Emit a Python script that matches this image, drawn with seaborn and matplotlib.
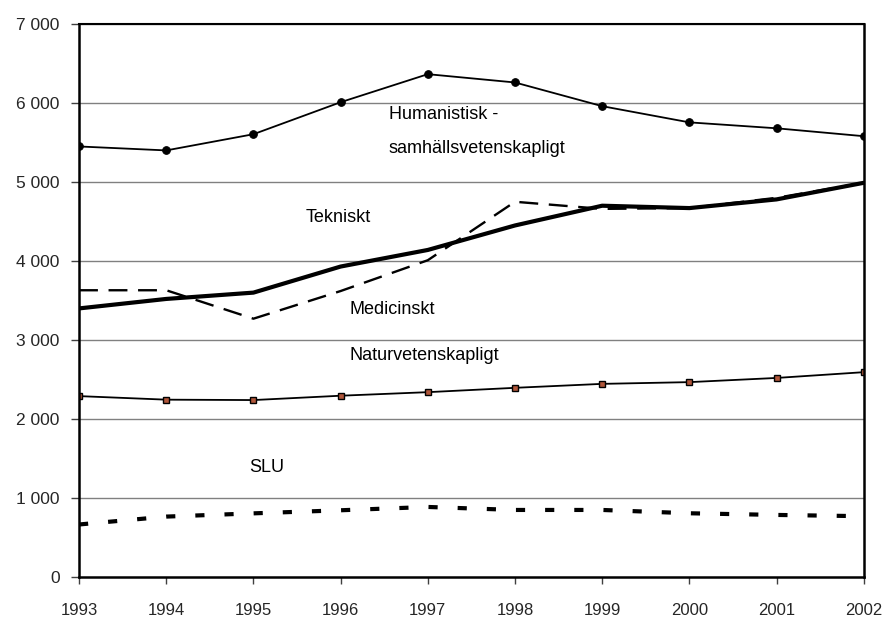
import pandas as pd
import seaborn as sns
import matplotlib.pyplot as plt
from matplotlib.ticker import FuncFormatter

# values
years = [1993, 1994, 1995, 1996, 1997, 1998, 1999, 2000, 2001, 2002]
humanistisk = [5450, 5400, 5605, 6010, 6365, 6260, 5960, 5755, 5680, 5580]
tekniskt = [3400, 3520, 3600, 3930, 4140, 4450, 4700, 4670, 4780, 4990]
medicinskt = [3630, 3630, 3270, 3620, 4010, 4750, 4660, 4670, 4800, 4990]
naturvet = [2290, 2245, 2240, 2295, 2340, 2395, 2445, 2467, 2520, 2593]
slu = [665, 765, 806, 845, 887, 849, 849, 807, 786, 770]

sns.set_style('white')
plt.rcParams['font.family'] = ['Liberation Sans', 'DejaVu Sans']

df = pd.DataFrame({'year': years, 'hum': humanistisk, 'tek': tekniskt,
                   'med': medicinskt, 'nat': naturvet, 'slu': slu})

fig = plt.figure(figsize=(8.85, 6.22), dpi=100)
ax = fig.add_axes([0.0893, 0.0723, 0.8867, 0.8891])

for v in range(1000, 7001, 1000):
    ax.axhline(v, color='#808080', lw=1.0, zorder=0)

sns.lineplot(data=df, x='year', y='slu', ax=ax, color='black', lw=3.0,
             linestyle=(0, (2.2, 4.8)), dash_capstyle='butt')
sns.lineplot(data=df, x='year', y='nat', ax=ax, color='black', lw=1.3,
             marker='s', markersize=5, markerfacecolor='#B0563A',
             markeredgecolor='black', markeredgewidth=1.0)
sns.lineplot(data=df, x='year', y='med', ax=ax, color='black', lw=1.7,
             linestyle=(0, (8, 4.5)))
sns.lineplot(data=df, x='year', y='tek', ax=ax, color='black', lw=3.0)
sns.lineplot(data=df, x='year', y='hum', ax=ax, color='black', lw=1.3,
             marker='o', markersize=5.5, markeredgecolor='black')

ax.set_xlim(1993, 2002)
ax.set_ylim(0, 7000)
ax.set_xticks(years)
ax.set_yticks(range(0, 7001, 1000))
ax.yaxis.set_major_formatter(FuncFormatter(lambda v, p: f'{int(v):,}'.replace(',', ' ')))
ax.set_xlabel('')
ax.set_ylabel('')
ax.tick_params(axis='x', direction='out', length=5, width=1, pad=14,
               labelsize=12, bottom=True, color='#404040')
ax.tick_params(axis='y', direction='out', length=6, width=1, pad=8,
               labelsize=12.5, left=True, color='#404040')

for s in ['left', 'right', 'bottom']:
    ax.spines[s].set_color('black')
    ax.spines[s].set_linewidth(1.8)
ax.spines['top'].set_color('black')
ax.spines['top'].set_linewidth(1.5)

txt = dict(fontsize=13, color='black', ha='left', va='center')
ax.text(1996.55, 5850, 'Humanistisk -', **txt)
ax.text(1996.55, 5430, 'samhällsvetenskapligt', **txt)
ax.text(1995.6, 4545, 'Tekniskt', **txt)
ax.text(1996.1, 3390, 'Medicinskt', **txt)
ax.text(1996.1, 2800, 'Naturvetenskapligt', **txt)
ax.text(1994.95, 1390, 'SLU', **txt)

fig.savefig('out.png', dpi=100)
